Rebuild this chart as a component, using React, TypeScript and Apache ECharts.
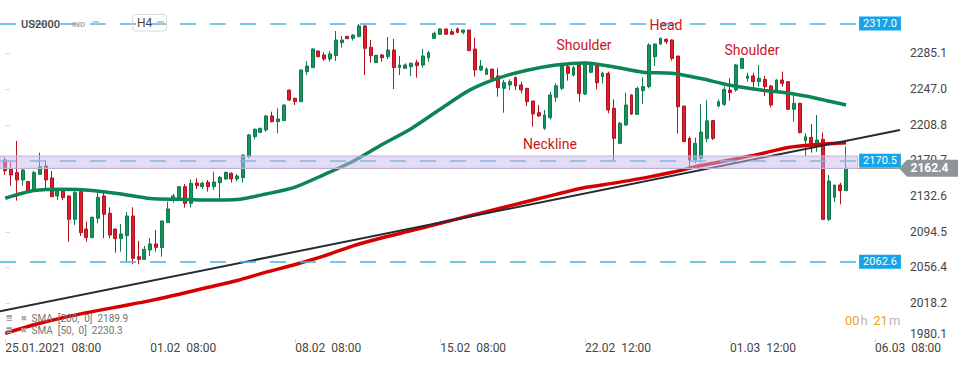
import React, { useEffect, useRef } from "react";
import * as echarts from "echarts";

// ---- axis ticks / labels ----
const X_TICK_INDEX = [0, 25, 50, 75, 100, 125, 150];
const X_TICK_LABELS = [
  "25.01.2021  08:00",
  "01.02  08:00",
  "08.02  08:00",
  "15.02  08:00",
  "22.02  12:00",
  "01.03  12:00",
  "06.03  08:00",
];
const Y_TICKS = [2018.2, 2056.4, 2094.5, 2132.6, 2170.7, 2208.8, 2247.0, 2285.1];
const Y_BOTTOM_TICK = 1980.1;
const X_MIN = -0.9;
const X_MAX = 154.3;
const Y_MIN = 1980.05;
const Y_MAX = 2342;

// ---- H4 candles ----
const OPEN = [
  2171.2, 2161.2, 2157.7, 2149.8, 2148.1, 2138.1, 2155.9, 2164.8, 2152.0, 2132.8,
  2138.4, 2132.8, 2107.8, 2137.4, 2097.5, 2088.3, 2108.9, 2132.8, 2114.3, 2097.5,
  2087.2, 2090.4, 2111.4, 2068.0, 2065.1, 2075.1, 2081.5, 2077.6, 2104.3, 2128.5,
  2130.3, 2142.7, 2124.9, 2146.6, 2142.7, 2147.3, 2142.7, 2147.0, 2150.9, 2157.0,
  2150.9, 2152.3, 2174.8, 2196.1, 2200.7, 2203.2, 2218.2, 2212.1, 2213.2, 2245.9,
  2237.0, 2233.5, 2265.5, 2269.8, 2287.6, 2283.3, 2279.0, 2282.6, 2296.5, 2303.2,
  2301.1, 2302.9, 2314.3, 2291.5, 2275.1, 2283.3, 2281.5, 2288.6, 2269.8, 2269.1,
  2270.8, 2275.1, 2272.6, 2280.4, 2301.1, 2305.4, 2311.1, 2308.2, 2311.1, 2307.5,
  2310.0, 2289.7, 2267.3, 2262.6, 2268.3, 2260.9, 2247.7, 2251.3, 2259.4, 2251.3,
  2247.7, 2234.2, 2221.7, 2205.0, 2216.4, 2238.1, 2247.7, 2270.8, 2261.9, 2273.3,
  2241.6, 2264.8, 2272.6, 2260.2, 2263.7, 2226.3, 2189.0, 2208.5, 2240.6, 2219.9,
  2245.2, 2249.5, 2281.5, 2295.0, 2300.0, 2299.3, 2282.2, 2228.8, 2194.3, 2171.2,
  2173.0, 2194.0, 2213.2, 2228.8, 2230.6, 2245.9, 2245.9, 2269.0, 2258.4, 2260.9,
  2254.8, 2257.3, 2250.2, 2245.9, 2256.6, 2254.8, 2225.3, 2231.7, 2191.8, 2195.4,
  2187.2, 2193.3, 2107.8, 2131.3, 2144.5, 2138.4,
];
const CLOSE = [
  2159.8, 2155.2, 2149.8, 2160.5, 2138.1, 2157.7, 2164.1, 2149.8, 2132.0, 2138.4,
  2131.0, 2107.8, 2136.3, 2093.6, 2088.3, 2110.0, 2131.3, 2113.2, 2091.1, 2087.2,
  2092.2, 2111.4, 2066.2, 2065.1, 2075.8, 2081.5, 2077.9, 2106.1, 2118.9, 2132.8,
  2142.7, 2124.9, 2146.3, 2143.8, 2146.3, 2142.7, 2147.7, 2152.7, 2158.0, 2150.9,
  2154.1, 2176.5, 2197.9, 2203.9, 2205.0, 2218.2, 2212.1, 2215.0, 2229.9, 2235.2,
  2233.5, 2267.3, 2271.5, 2289.7, 2281.5, 2279.0, 2284.4, 2299.3, 2299.3, 2300.7,
  2304.6, 2314.3, 2290.4, 2282.6, 2282.9, 2280.4, 2288.6, 2269.8, 2272.6, 2272.6,
  2274.4, 2271.9, 2282.2, 2285.8, 2306.4, 2311.1, 2305.4, 2305.4, 2307.5, 2310.0,
  2287.9, 2267.3, 2271.5, 2268.3, 2258.4, 2248.4, 2253.7, 2254.8, 2250.2, 2245.9,
  2233.4, 2220.3, 2218.2, 2219.2, 2240.6, 2250.5, 2271.5, 2263.7, 2269.8, 2242.3,
  2274.4, 2274.4, 2253.7, 2263.7, 2224.6, 2194.3, 2210.3, 2229.9, 2220.3, 2247.7,
  2249.5, 2294.0, 2295.0, 2301.1, 2297.5, 2279.7, 2228.1, 2190.8, 2171.2, 2189.0,
  2201.0, 2213.0, 2194.3, 2233.4, 2246.6, 2243.1, 2272.6, 2279.7, 2260.9, 2254.8,
  2258.4, 2249.5, 2229.9, 2256.6, 2253.0, 2225.3, 2231.7, 2200.4, 2196.0, 2187.2,
  2192.5, 2107.8, 2148.7, 2144.5, 2138.4, 2162.4,
];
const LOW = [
  2155.2, 2143.8, 2127.8, 2143.8, 2137.4, 2137.4, 2155.2, 2140.2, 2132.0, 2128.5,
  2128.5, 2084.0, 2101.8, 2090.0, 2084.0, 2087.6, 2103.6, 2087.6, 2087.6, 2072.2,
  2073.3, 2062.6, 2059.8, 2059.8, 2064.4, 2068.7, 2073.3, 2068.0, 2104.3, 2125.6,
  2129.2, 2120.3, 2120.3, 2140.2, 2140.2, 2137.4, 2139.2, 2128.5, 2149.8, 2147.0,
  2148.4, 2147.0, 2173.0, 2193.3, 2199.7, 2201.4, 2211.4, 2199.7, 2212.8, 2234.2,
  2229.9, 2233.5, 2261.9, 2269.8, 2280.8, 2277.2, 2276.2, 2276.9, 2291.1, 2300.4,
  2298.6, 2302.5, 2261.9, 2275.1, 2275.1, 2276.2, 2279.0, 2247.0, 2261.9, 2268.3,
  2260.9, 2259.1, 2269.8, 2276.2, 2300.4, 2304.6, 2305.4, 2304.6, 2306.4, 2305.4,
  2287.9, 2260.2, 2266.2, 2261.9, 2256.6, 2238.8, 2221.7, 2245.9, 2245.9, 2242.3,
  2228.8, 2206.8, 2217.4, 2203.2, 2214.6, 2233.4, 2245.9, 2255.9, 2260.2, 2233.4,
  2240.6, 2263.7, 2246.6, 2253.0, 2221.0, 2169.4, 2188.3, 2207.5, 2219.2, 2219.2,
  2231.0, 2247.7, 2271.5, 2294.0, 2295.0, 2277.2, 2199.6, 2190.8, 2164.0, 2167.6,
  2168.0, 2190.0, 2192.5, 2227.4, 2228.8, 2234.5, 2244.1, 2269.0, 2254.8, 2248.4,
  2249.5, 2239.5, 2227.4, 2244.1, 2249.5, 2224.5, 2212.1, 2199.6, 2175.4, 2179.0,
  2180.0, 2107.8, 2106.0, 2126.6, 2123.9, 2138.4,
];
const HIGH = [
  2174.0, 2169.4, 2191.5, 2162.3, 2148.8, 2159.8, 2179.0, 2171.2, 2159.4, 2140.9,
  2140.9, 2132.8, 2138.4, 2139.2, 2105.4, 2110.7, 2137.4, 2137.4, 2120.7, 2097.5,
  2102.9, 2115.7, 2120.7, 2084.7, 2079.4, 2087.9, 2096.5, 2106.1, 2126.7, 2134.9,
  2143.4, 2145.6, 2150.5, 2151.6, 2148.1, 2149.8, 2158.7, 2154.1, 2158.7, 2158.0,
  2156.2, 2177.2, 2199.0, 2205.0, 2205.7, 2219.2, 2222.8, 2226.3, 2230.6, 2245.9,
  2237.7, 2267.3, 2276.9, 2290.4, 2287.6, 2286.1, 2287.6, 2308.9, 2303.6, 2303.6,
  2305.4, 2316.4, 2315.3, 2299.3, 2283.3, 2284.4, 2302.5, 2300.4, 2282.2, 2274.4,
  2275.1, 2278.0, 2289.7, 2287.6, 2308.2, 2311.8, 2311.1, 2311.1, 2312.8, 2310.0,
  2310.0, 2301.8, 2278.0, 2270.1, 2268.3, 2269.1, 2256.6, 2257.3, 2260.2, 2254.8,
  2247.7, 2234.2, 2229.9, 2224.6, 2244.1, 2253.0, 2275.1, 2272.6, 2271.5, 2274.4,
  2276.2, 2276.2, 2274.4, 2265.5, 2265.5, 2235.9, 2212.1, 2243.1, 2241.6, 2249.5,
  2259.4, 2295.7, 2295.7, 2301.8, 2301.1, 2300.0, 2282.2, 2228.8, 2196.1, 2195.0,
  2231.0, 2235.0, 2213.9, 2235.9, 2249.5, 2258.4, 2273.7, 2279.7, 2264.4, 2264.4,
  2272.6, 2260.9, 2251.3, 2257.3, 2265.5, 2254.8, 2242.4, 2232.4, 2199.7, 2209.6,
  2219.2, 2200.7, 2155.2, 2144.5, 2146.9, 2185.4,
];

// ---- indicator lines (every 5 candles) ----
const SMA_INDEX = [
  0, 5, 10, 15, 20, 25, 30, 35, 40, 45, 50, 55, 60, 65, 70,
  75, 80, 85, 90, 95, 100, 105, 110, 115, 120, 125, 130, 135, 140, 145,
];
const SMA50 = [
  2130.3, 2138.5, 2139.9, 2138.7, 2134.9, 2130.1, 2129.2, 2128.4, 2129.0, 2134.9,
  2142.3, 2155.6, 2169.9, 2187.8, 2204.6, 2225.3, 2245.5, 2258.6, 2267.0, 2272.5,
  2274.8, 2270.5, 2264.9, 2263.8, 2258.1, 2250.9, 2246.1, 2242.6, 2236.9, 2229.9,
];
const SMA200 = [
  1986.1, 1995.2, 2002.9, 2009.3, 2015.1, 2021.0, 2027.8, 2035.3, 2042.5, 2051.4,
  2059.6, 2068.8, 2079.5, 2088.1, 2095.8, 2103.6, 2111.4, 2119.1, 2126.9, 2134.5,
  2141.8, 2146.5, 2151.8, 2158.0, 2165.3, 2171.2, 2177.4, 2184.6, 2187.7, 2189.7,
];
const TREND_X = [-0.9, 154.3];
const TREND_Y = [2009.6, 2203.3];

// ---- levels & annotations ----
const LEVELS = [2317.0, 2170.5, 2062.6];
const LAST_PRICE = 2162.4;
const ZONE = [2162.3, 2175.4];
const ZONE_END_INDEX = 147;
const LEGEND_LINES = ["SMA  [200,  0]  2189.9", "SMA  [50,  0]  2230.3"];
const PATTERN_LABELS = ["Shoulder", "Head", "Shoulder", "Neckline"];

const FONT = "Roboto, 'Open Sans', sans-serif";

export default function App() {
  const ref = useRef<HTMLDivElement>(null);

  useEffect(() => {
    if (!ref.current) return;
    const chart = echarts.init(ref.current, null, { renderer: "svg" });

    const candles = OPEN.map((o, i) => [i, o, CLOSE[i], LOW[i], HIGH[i]]);

    const option: any = {
      animation: false,
      backgroundColor: "#ffffff",
      grid: { left: 0, right: 70, top: 0, bottom: 26, containLabel: false },
      xAxis: {
        type: "value",
        min: X_MIN,
        max: X_MAX,
        axisLine: { show: false },
        splitLine: { show: false },
        axisTick: {
          show: true,
          customValues: X_TICK_INDEX,
          length: 4,
          lineStyle: { color: "#d6d6d6" },
        },
        axisLabel: {
          customValues: X_TICK_INDEX,
          formatter: (v: number) => {
            const k = X_TICK_INDEX.indexOf(Math.round(v));
            return k >= 0 ? X_TICK_LABELS[k] : "";
          },
          align: "left",
          color: "#454545",
          fontFamily: FONT,
          fontSize: 12,
          margin: 3,
          hideOverlap: false,
        },
      },
      yAxis: {
        type: "value",
        position: "right",
        min: Y_MIN,
        max: Y_MAX,
        axisLine: { show: false },
        splitLine: { show: false },
        axisTick: {
          show: true,
          customValues: Y_TICKS,
          length: 5,
          lineStyle: { color: "#dcdcdc" },
        },
        axisLabel: {
          customValues: Y_TICKS,
          formatter: (v: number) => v.toFixed(1),
          color: "#454545",
          fontFamily: FONT,
          fontSize: 12,
          margin: 10,
        },
      },
      series: [
        {
          type: "candlestick",
          data: candles,
          encode: { x: 0, y: [1, 2, 3, 4] },
          barWidth: 3.4,
          z: 2,
          itemStyle: {
            color: "#16935e",
            color0: "#d9202d",
            borderColor: "#0e7a4b",
            borderColor0: "#b3111d",
            borderWidth: 1,
          },
          markLine: {
            symbol: ["none", "none"],
            silent: true,
            animation: false,
            label: { show: false },
            data: [
              ...LEVELS.map((v) => ({
                yAxis: v,
                lineStyle: { color: "#4ab3ea", type: [16, 14], width: 1.5 },
              })),
              { yAxis: LAST_PRICE, lineStyle: { color: "#9b9b9b", type: "solid", width: 1 } },
            ],
          },
        },
        {
          type: "line",
          data: SMA_INDEX.map((x, i) => [x, SMA200[i]]),
          showSymbol: false,
          smooth: 0.25,
          z: 3,
          lineStyle: { color: "#d60000", width: 3.5 },
        },
        {
          type: "line",
          data: SMA_INDEX.map((x, i) => [x, SMA50[i]]),
          showSymbol: false,
          smooth: 0.25,
          z: 3,
          lineStyle: { color: "#0b8554", width: 3.5 },
        },
        {
          type: "line",
          data: TREND_X.map((x, i) => [x, TREND_Y[i]]),
          showSymbol: false,
          z: 4,
          lineStyle: { color: "#272c33", width: 2 },
        },
      ],
    };
    chart.setOption(option);

    const px = (x: number, y: number) =>
      chart.convertToPixel({ gridIndex: 0 }, [x, y]) as number[];

    const zTop = px(X_MIN, ZONE[1]);
    const zBot = px(ZONE_END_INDEX, ZONE[0]);
    const last = px(OPEN.length - 1, LAST_PRICE);
    const bottomTick = px(X_MIN, Y_BOTTOM_TICK);

    const elements: any[] = [];
    // neckline zone
    elements.push({
      type: "rect",
      z: 20,
      silent: true,
      shape: { x: zTop[0], y: zTop[1], width: zBot[0] - zTop[0], height: zBot[1] - zTop[1] },
      style: { fill: "rgba(200,186,232,0.5)", stroke: "#c2b4e6", lineWidth: 1 },
    });
    // level boxes
    LEVELS.forEach((v) => {
      const p = px(X_MIN, v);
      elements.push({
        type: "text",
        z: 40,
        x: 880,
        y: p[1],
        style: {
          text: v.toFixed(1),
          fill: "#ffffff",
          font: `11px ${FONT}`,
          align: "center",
          verticalAlign: "middle",
          backgroundColor: "#14a4ea",
          padding: [2, 4, 1, 4],
        },
      });
    });
    // last price marker
    const ly = last[1];
    elements.push({
      type: "polygon",
      z: 40,
      shape: {
        points: [
          [899, ly],
          [907, ly - 8.5],
          [958, ly - 8.5],
          [958, ly + 8.5],
          [907, ly + 8.5],
        ],
      },
      style: { fill: "#8d9599" },
    });
    elements.push({
      type: "text",
      z: 41,
      x: 929.5,
      y: ly,
      style: {
        text: LAST_PRICE.toFixed(1),
        fill: "#ffffff",
        font: `bold 12px ${FONT}`,
        align: "center",
        verticalAlign: "middle",
      },
    });
    // bottom y label (shifted up like the platform does)
    elements.push({
      type: "text",
      z: 41,
      x: 910,
      y: bottomTick[1] - 5,
      style: {
        text: Y_BOTTOM_TICK.toFixed(1),
        fill: "#454545",
        font: `12px ${FONT}`,
        align: "left",
        verticalAlign: "middle",
      },
    });
    // pattern annotations
    const patPos = [
      [584, 44.5],
      [666, 24.5],
      [752, 49.5],
      [550, 143.7],
    ];
    PATTERN_LABELS.forEach((t, i) => {
      elements.push({
        type: "text",
        z: 45,
        x: patPos[i][0],
        y: patPos[i][1],
        style: {
          text: t,
          fill: "#c8161d",
          font: `14px ${FONT}`,
          align: "center",
          verticalAlign: "middle",
        },
      });
    });
    // header
    elements.push(
      {
        type: "text",
        z: 45,
        x: 21,
        y: 24,
        style: { text: "US2000", fill: "#4d4d4d", font: `600 11px ${FONT}`, verticalAlign: "middle" },
      },
      {
        type: "text",
        z: 45,
        x: 72,
        y: 24.5,
        style: { text: "IND", fill: "#a3acb5", font: `bold 8px ${FONT}`, verticalAlign: "middle" },
      },
      {
        type: "polygon",
        z: 45,
        shape: { points: [[92, 21], [100, 21], [96, 25.5]] },
        style: { fill: "#c4c4c4" },
      },
      {
        type: "rect",
        z: 45,
        shape: { x: 132.5, y: 14.5, width: 34, height: 16.5, r: 3 },
        style: { fill: "rgba(255,255,255,0)", stroke: "#d8d8d8", lineWidth: 1 },
      },
      {
        type: "text",
        z: 46,
        x: 137,
        y: 23,
        style: { text: "H4", fill: "#444444", font: `12px ${FONT}`, verticalAlign: "middle" },
      },
      {
        type: "polygon",
        z: 46,
        shape: { points: [[156, 21], [165, 21], [160.5, 25.5]] },
        style: { fill: "#c4c4c4" },
      }
    );
    // bottom-left indicator legend
    LEGEND_LINES.forEach((t, i) => {
      const cy = 318.5 + i * 12;
      [0, 2.3, 4.6].forEach((d, k) => {
        elements.push({
          type: "rect",
          z: 45,
          shape: { x: 6.5, y: cy - 3.2 + d, width: 5.5, height: k === 0 ? 1.6 : 1.2 },
          style: { fill: k === 0 ? "#8a8a8a" : "#a8a8a8" },
        });
      });
      elements.push({
        type: "text",
        z: 45,
        x: 20.5,
        y: cy,
        style: { text: "✖", fill: "#a8a8a8", font: "8px 'DejaVu Sans'", verticalAlign: "middle" },
      });
      elements.push({
        type: "text",
        z: 45,
        x: 31.5,
        y: cy,
        style: { text: t, fill: "#747474", font: `10px ${FONT}`, verticalAlign: "middle" },
      });
    });
    // candle countdown
    const timer = [
      ["00", 845, "#f39c1f"],
      ["h", 860.5, "#b8b8b8"],
      ["21", 873.3, "#f39c1f"],
      ["m", 889, "#b8b8b8"],
    ];
    timer.forEach(([t, x, c]) => {
      elements.push({
        type: "text",
        z: 45,
        x: x as number,
        y: 320,
        style: { text: t as string, fill: c as string, font: `13px ${FONT}`, verticalAlign: "middle" },
      });
    });

    chart.setOption({ graphic: { elements } });

    return () => chart.dispose();
  }, []);

  return (
    <div
      ref={ref}
      style={{ position: "fixed", left: 0, top: 0, width: 970, height: 365, background: "#fff" }}
    />
  );
}
